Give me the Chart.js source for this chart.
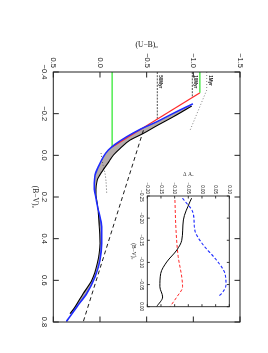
<!DOCTYPE html>
<html>
<head>
<meta charset="utf-8">
<script src="https://cdn.jsdelivr.net/npm/chart.js@4.4.1/dist/chart.umd.min.js"></script>
<style>
  html, body { margin:0; padding:0; background:#fff; overflow:hidden; }
  #wrap { position:absolute; left:0; top:0; width:353px; height:268px;
          transform-origin:0 0; transform:translate(268px,0) rotate(90deg); }
  #wrap canvas { position:absolute; left:0; top:0; }
  #inset { pointer-events:none; }
</style>
</head>
<body>
<div id="wrap">
  <canvas id="main" width="353" height="268"></canvas>
  <canvas id="inset" width="353" height="268"></canvas>
</div>
<script>
// ---------- main panel data ----------
const xTickValuesMain = [-0.4, -0.2, 0.0, 0.2, 0.4, 0.6, 0.8];
const xTickLabelsMain = ['−0.4','−0.2','0.0','0.2','0.4','0.6','0.8'];
const yTickValuesMain = [-1.5, -1.0, -0.5, 0.0, 0.5];
const yTickLabelsMain = ['−1.5','−1.0','−0.5','0.0','0.5'];

const blueBV = [-0.246, -0.2015, -0.161, -0.1246, -0.089, -0.0525, -0.025, 0.007, 0.055, 0.095, 0.151, 0.183, 0.263, 0.343, 0.423, 0.503, 0.584, 0.663, 0.728, 0.795];
const blueUB = [-0.989, -0.785, -0.608, -0.429, -0.286, -0.161, -0.089, -0.036, 0.018, 0.053, 0.061, 0.053, 0.018, -0.018, -0.018, 0.0, 0.053, 0.142, 0.249, 0.356];

const blackBV = [-0.2366, -0.185, -0.142, -0.105, -0.073, -0.033, -0.001, 0.030, 0.071, 0.119, 0.183, 0.263, 0.343, 0.423, 0.519, 0.600, 0.663, 0.728, 0.76];
const blackUB = [-0.983, -0.785, -0.608, -0.464, -0.322, -0.215, -0.143, -0.097, -0.032, 0.029, 0.043, 0.018, 0.007, 0.0, 0.029, 0.089, 0.179, 0.268, 0.321];

const redBV = [-0.30, -0.04];
const redUB = [-1.07, -0.13];

const greenTopBV = [-0.4, -0.30];
const greenTopUB = [-1.07, -1.07];
const greenLowBV = [-0.4, -0.04];
const greenLowUB = [-0.13, -0.13];

const reddenBV = [-0.12, 0.8];
const reddenUB = [-0.465, 0.18];

const ageLabels = ['1Myr', '10Myr', '50Myr'];
const ageUB = [-1.143, -0.989, -0.614];
const age1BV = [-0.4, -0.313, -0.115];
const age1UB = [-1.143, -1.143, -0.96];
const age10BV = [-0.4, -0.278];
const age10UB = [-0.989, -0.989];
const age50BV = [-0.4, -0.174];
const age50UB = [-0.614, -0.614];

const dotBV = [-0.011, 0.039, 0.087, 0.127, 0.183];
const dotUB = [-0.011, -0.029, -0.054, -0.065, -0.072];

// ---------- inset data ----------
const insetXTickValues = [-0.25, -0.20, -0.15, -0.10, -0.05, 0.0];
const insetXTicks = ['−0.25','−0.20','−0.15','−0.10','−0.05','0.00'];
const insetYTickValues = [-0.20, -0.15, -0.10, -0.05, 0.0, 0.05, 0.10];
const insetYTicks = ['−0.20','−0.15','−0.10','−0.05','0.00','0.05','0.10'];

const inBlackBV = [-0.245, -0.237, -0.196, -0.150, -0.128, -0.101, -0.075, -0.045, -0.022, 0.0];
const inBlackDA = [-0.038, -0.044, -0.068, -0.074, -0.092, -0.129, -0.151, -0.154, -0.144, -0.166];

const inRedBV = [-0.241, -0.173, -0.113, -0.067, -0.045, -0.022, 0.0];
const inRedDA = [-0.099, -0.095, -0.087, -0.074, -0.071, -0.092, -0.117];

const inBlueBV = [-0.245, -0.211, -0.173, -0.139, -0.109, -0.075, -0.049, -0.030, -0.022];
const inBlueDA = [-0.071, -0.032, -0.026, 0.005, 0.048, 0.084, 0.088, 0.072, 0.058];

// ---------- helpers ----------
const pts = (xs, ys) => xs.map((x, i) => ({x: x, y: ys[i]}));
const SANS = "'Liberation Sans', Arial, sans-serif";
const SERIF = "'Liberation Serif', 'DejaVu Serif', serif";

function labelFor(values, labels) {
  return (v) => {
    let best = 0;
    values.forEach((t, i) => { if (Math.abs(t - v) < Math.abs(values[best] - v)) best = i; });
    return labels[best];
  };
}

function lineDS(xs, ys, color, width, dash, extra) {
  return Object.assign({
    data: pts(xs, ys), showLine: true, borderColor: color, borderWidth: width,
    borderDash: dash || [], pointRadius: 0, fill: false, tension: 0
  }, extra || {});
}

const frameTicks = {
  id: 'frameTicks',
  afterDraw(chart, args, opts) {
    const {ctx, chartArea} = chart;
    const {left, right, top, bottom} = chartArea;
    const xs = chart.scales.x, ys = chart.scales.y;
    const L = opts.len;
    ctx.save();
    ctx.strokeStyle = opts.color;
    ctx.lineWidth = opts.width;
    ctx.beginPath();
    xs.ticks.forEach(t => {
      const p = xs.getPixelForValue(t.value);
      ctx.moveTo(p, bottom); ctx.lineTo(p, bottom - L);
      ctx.moveTo(p, top); ctx.lineTo(p, top + L);
    });
    ys.ticks.forEach(t => {
      const p = ys.getPixelForValue(t.value);
      ctx.moveTo(left, p); ctx.lineTo(left + L, p);
      ctx.moveTo(right, p); ctx.lineTo(right - L, p);
    });
    ctx.stroke();
    ctx.strokeRect(left, top, right - left, bottom - top);
    ctx.restore();
  }
};

const ageText = {
  id: 'ageText',
  afterDatasetsDraw(chart) {
    const {ctx} = chart;
    const xs = chart.scales.x, ys = chart.scales.y;
    ctx.save();
    ctx.fillStyle = '#111';
    ctx.font = "bold 4.6px " + SANS;
    ctx.textAlign = 'left';
    ctx.textBaseline = 'bottom';
    ageLabels.forEach((lab, i) => {
      ctx.fillText(lab, xs.getPixelForValue(-0.385), ys.getPixelForValue(ageUB[i]) - 1);
    });
    ctx.restore();
  }
};

// ---------- main chart ----------
new Chart(document.getElementById('main'), {
  type: 'scatter',
  data: {
    datasets: [
      lineDS(blueBV, blueUB, '#1e2bff', 1.6, null, {cubicInterpolationMode: 'monotone', borderCapStyle: 'round'}),
      lineDS(blackBV, blackUB, '#000', 1.1, null, {cubicInterpolationMode: 'monotone', fill: 0, backgroundColor: '#b4abab'}),
      lineDS(redBV, redUB, '#ff2a2a', 1.1),
      lineDS(greenTopBV, greenTopUB, '#2ee82e', 1.1),
      lineDS(greenLowBV, greenLowUB, '#2ee82e', 1.1),
      lineDS(reddenBV, reddenUB, '#000', 0.9, [4, 3]),
      lineDS(age50BV, age50UB, '#000', 0.7, [2, 1.2]),
      lineDS(age10BV, age10UB, '#000', 0.7, [2, 1.2]),
      lineDS(age1BV, age1UB, '#666', 0.8, [1, 2]),
      lineDS(dotBV, dotUB, '#444', 0.8, [1, 2], {tension: 0.3})
    ]
  },
  options: {
    responsive: false, animation: false, devicePixelRatio: 1,
    layout: {padding: {left: 0, right: 31, top: 28, bottom: 0}},
    plugins: {
      legend: {display: false}, tooltip: {enabled: false},
      filler: {drawTime: 'beforeDatasetsDraw'},
      frameTicks: {len: 5.5, color: '#222', width: 1}
    },
    scales: {
      x: {
        type: 'linear', min: -0.4, max: 0.8,
        grid: {display: false, drawTicks: false}, border: {display: false},
        ticks: {stepSize: 0.2, autoSkip: false, maxRotation: 0, padding: 5, color: '#222',
                font: {family: SANS, size: 7.5},
                callback: labelFor(xTickValuesMain, xTickLabelsMain)},
        title: {display: true, text: '(B−V)₀', color: '#222', font: {family: SERIF, size: 7.5},
                padding: {top: 0, bottom: 30.5}},
        afterFit: s => { s.height = 53.3; }
      },
      y: {
        type: 'linear', min: -1.5, max: 0.5, reverse: true,
        grid: {display: false, drawTicks: false}, border: {display: false},
        ticks: {stepSize: 0.5, autoSkip: false, padding: 4, color: '#222',
                font: {family: SANS, size: 7.5},
                callback: labelFor(yTickValuesMain, yTickLabelsMain)},
        title: {display: true, text: '(U−B)₀', color: '#222', font: {family: SERIF, size: 7.5},
                padding: {top: 40.5, bottom: 0}},
        afterFit: s => { s.width = 72; }
      }
    }
  },
  plugins: [frameTicks, ageText]
});

// ---------- inset chart ----------
new Chart(document.getElementById('inset'), {
  type: 'scatter',
  data: {
    datasets: [
      lineDS(inBlackBV, inBlackDA, '#000', 1.0, null, {cubicInterpolationMode: 'monotone'}),
      lineDS(inRedBV, inRedDA, '#ff2a2a', 1.0, [3, 2], {cubicInterpolationMode: 'monotone'}),
      lineDS(inBlueBV, inBlueDA, '#1e2bff', 1.1, [3, 2], {cubicInterpolationMode: 'monotone'})
    ]
  },
  options: {
    responsive: false, animation: false, devicePixelRatio: 1,
    layout: {padding: {left: 150, right: 46.3, top: 38.7, bottom: 122.3}},
    plugins: {
      legend: {display: false}, tooltip: {enabled: false},
      frameTicks: {len: 2.5, color: '#222', width: 0.9}
    },
    scales: {
      x: {
        type: 'linear', min: -0.25, max: 0.0,
        grid: {display: false, drawTicks: false}, border: {display: false},
        ticks: {stepSize: 0.05, autoSkip: false, maxRotation: 0, padding: 3, color: '#222',
                font: {family: SANS, size: 4.5},
                callback: labelFor(insetXTickValues, insetXTicks)},
        title: {display: true, text: '(B−V)₀', color: '#222', font: {family: SERIF, size: 5.5},
                padding: {top: 0, bottom: 7.4}},
        afterFit: s => { s.height = 25; }
      },
      y: {
        type: 'linear', min: -0.20, max: 0.10,
        grid: {display: false, drawTicks: false}, border: {display: false},
        ticks: {stepSize: 0.05, autoSkip: false, padding: 2, color: '#222',
                font: {family: SANS, size: 4.5},
                callback: labelFor(insetYTickValues, insetYTicks)},
        title: {display: true, text: 'Δ Aᵥ', color: '#222', font: {family: SERIF, size: 5.5},
                padding: {top: 21.7, bottom: 0}},
        afterFit: s => { s.width = 46; }
      }
    }
  },
  plugins: [frameTicks]
});
</script>
</body>
</html>
